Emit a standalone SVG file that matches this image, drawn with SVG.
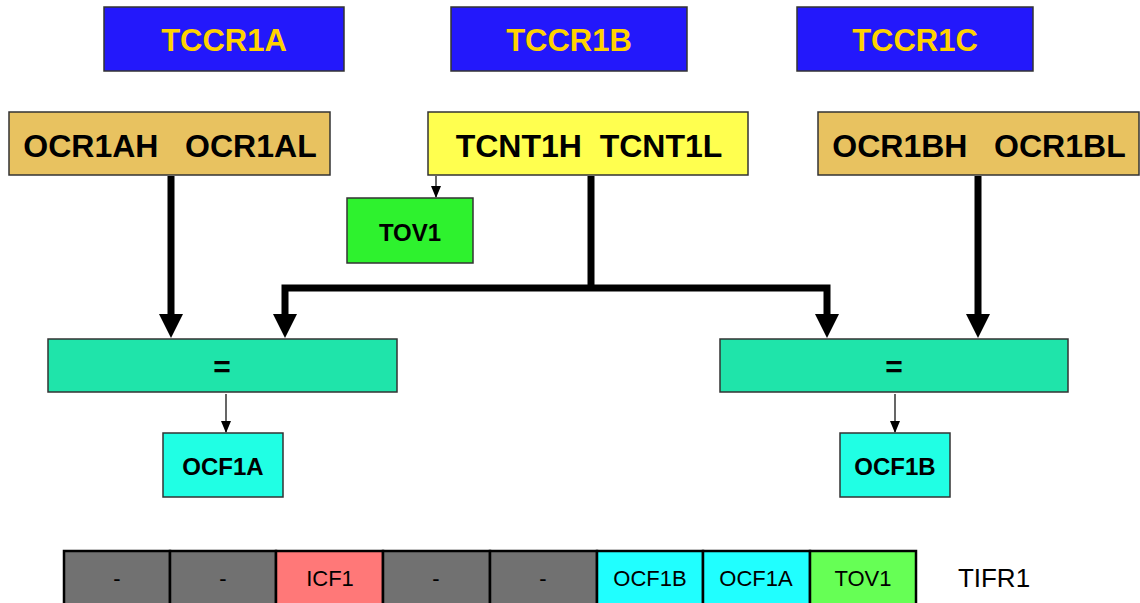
<svg xmlns="http://www.w3.org/2000/svg" width="1140" height="603" viewBox="0 0 1140 603">
<style>
text{font-family:"Liberation Sans",Arial,sans-serif;text-anchor:middle;dominant-baseline:central}
.reg{fill:#2318FB;stroke:#333;stroke-width:1.5}
.regt{fill:#FFD200;font-weight:bold;font-size:31px}
.big{stroke:#333;stroke-width:1.5}
.bigt{fill:#000;font-weight:bold;font-size:32px}
.mid{stroke:#333;stroke-width:1.5}
.midt{fill:#000;font-weight:bold;font-size:24px}
.cell{stroke:#000;stroke-width:2.5}
.cellt{fill:#000;font-size:22px}
.thick{stroke:#000;stroke-width:7;fill:none}
.thin{stroke:#000;stroke-width:1.2;fill:none}
.head{fill:#000}
</style>
<defs>
<marker id="smallA" markerUnits="userSpaceOnUse" markerWidth="10" markerHeight="12" refX="5" refY="11" viewBox="0 0 10 12"><path d="M0,0 L10,0 L5,12 Z" fill="#000"/></marker>
</defs>
<rect width="1140" height="603" fill="#fff"/>
<g id="connectors">
<line class="thin" x1="436" y1="176" x2="436" y2="197" marker-end="url(#smallA)"/>
<line class="thick" x1="171" y1="176" x2="171" y2="316"/>
<path class="head" d="M159,314 L183,314 L171,338 Z"/>
<line class="thick" x1="978" y1="176" x2="978" y2="316"/>
<path class="head" d="M966,314 L990,314 L978,338 Z"/>
<line class="thick" x1="591" y1="176" x2="591" y2="288"/>
<path class="thick" d="M285,316 L285,288 L827,288 L827,316"/>
<path class="head" d="M273,314 L297,314 L285,338 Z"/>
<path class="head" d="M815,314 L839,314 L827,338 Z"/>
<line class="thin" x1="226" y1="394" x2="226" y2="432" marker-end="url(#smallA)"/>
<line class="thin" x1="895" y1="394" x2="895" y2="432" marker-end="url(#smallA)"/>
</g>
<g id="tccr1a"><rect class="reg" x="104" y="7" width="240" height="64"/><text class="regt" x="224" y="40">TCCR1A</text></g>
<g id="tccr1b"><rect class="reg" x="451" y="7" width="236" height="64"/><text class="regt" x="569" y="40">TCCR1B</text></g>
<g id="tccr1c"><rect class="reg" x="797" y="7" width="236" height="64"/><text class="regt" x="915" y="40">TCCR1C</text></g>
<g id="ocr1a"><rect class="big" fill="#E8C260" x="9" y="112" width="321" height="63"/><text class="bigt" x="170" y="146" xml:space="preserve">OCR1AH   OCR1AL</text></g>
<g id="tcnt1"><rect class="big" fill="#FFFF4F" x="428" y="112" width="320" height="63"/><text class="bigt" x="589" y="146" xml:space="preserve">TCNT1H  TCNT1L</text></g>
<g id="ocr1b"><rect class="big" fill="#E8C260" x="818" y="112" width="321" height="63"/><text class="bigt" x="979" y="146" xml:space="preserve">OCR1BH   OCR1BL</text></g>
<g id="tov1"><rect class="mid" fill="#2EF22E" x="347" y="198" width="126" height="65"/><text class="midt" x="410" y="232">TOV1</text></g>
<g id="cmpA"><rect class="mid" fill="#1FE4AA" x="48" y="339" width="349" height="53"/><text class="midt" x="222" y="366" style="font-size:30px">=</text></g>
<g id="cmpB"><rect class="mid" fill="#1FE4AA" x="720" y="339" width="348" height="53"/><text class="midt" x="894" y="366" style="font-size:30px">=</text></g>
<g id="ocf1a"><rect class="mid" fill="#20FFE4" x="163" y="433" width="120" height="64"/><text class="midt" x="223" y="466">OCF1A</text></g>
<g id="ocf1b"><rect class="mid" fill="#20FFE4" x="840" y="433" width="110" height="64"/><text class="midt" x="895" y="466">OCF1B</text></g>
<g id="tifr1">
<rect class="cell" fill="#717171" x="64" y="551" width="106" height="56"/><text class="cellt" x="117" y="578">-</text>
<rect class="cell" fill="#717171" x="170" y="551" width="106" height="56"/><text class="cellt" x="223" y="578">-</text>
<rect class="cell" fill="#FF7878" x="276" y="551" width="107" height="56"/><text class="cellt" x="330" y="578">ICF1</text>
<rect class="cell" fill="#717171" x="383" y="551" width="107" height="56"/><text class="cellt" x="436" y="578">-</text>
<rect class="cell" fill="#717171" x="490" y="551" width="107" height="56"/><text class="cellt" x="543" y="578">-</text>
<rect class="cell" fill="#20FFFF" x="597" y="551" width="106" height="56"/><text class="cellt" x="650" y="578">OCF1B</text>
<rect class="cell" fill="#20FFFF" x="703" y="551" width="107" height="56"/><text class="cellt" x="756" y="578">OCF1A</text>
<rect class="cell" fill="#66FF55" x="810" y="551" width="106" height="56"/><text class="cellt" x="863" y="578">TOV1</text>
<text class="cellt" x="994" y="578" style="font-size:26px">TIFR1</text>
</g>
</svg>
